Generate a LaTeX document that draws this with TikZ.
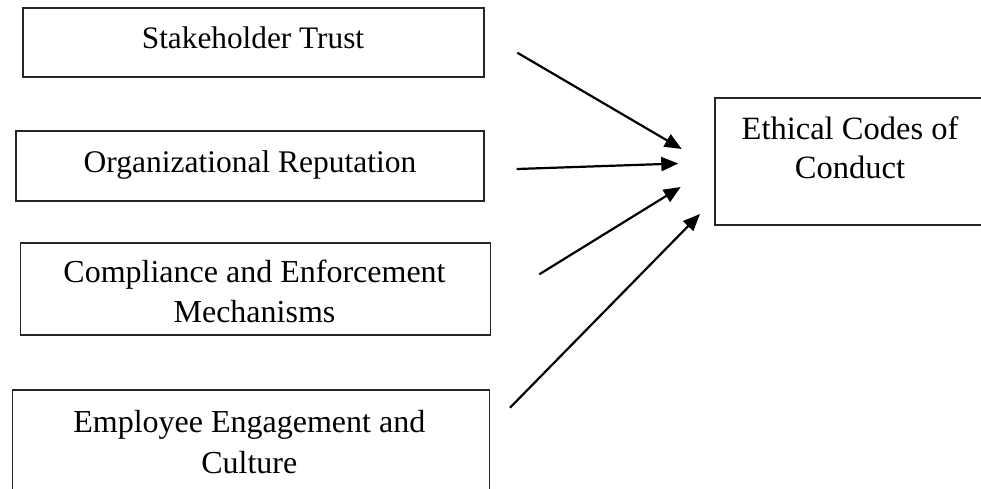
\documentclass[tikz,border=0pt]{standalone}
\usepackage{fontspec}
\setmainfont{Liberation Serif}
\usetikzlibrary{arrows.meta}
\begin{document}
\begin{tikzpicture}[x=1pt,y=-1pt,
  box/.style={draw=black!85, line width=1.6pt, inner sep=0pt, anchor=north west},
  txt/.style={inner sep=0pt, align=center, anchor=north},
  arr/.style={-{Triangle[length=17pt,width=14pt]}, line width=2.2pt}]
\useasboundingbox (0,0) rectangle (981,488);
% boxes
\node[box, minimum width=461pt, minimum height=69pt] (b1) at (22,7) {};
\node[box, minimum width=468pt, minimum height=70pt] (b2) at (15,130) {};
\node[box, minimum width=470pt, minimum height=92pt] (b3) at (19.5,242.3) {};
\node[box, minimum width=477pt, minimum height=110pt] (b4) at (11.7,389) {};
\node[box, minimum width=280pt, minimum height=126.7pt] (b5) at (714,97.3) {};
% texts
\node[txt, font=\fontsize{31.3}{40}\selectfont] (t1) at (253,26.3) {Stakeholder Trust};
\node[txt, font=\fontsize{31.5}{40}\selectfont] (t2) at (250,150) {Organizational Reputation};
\node[txt, font=\fontsize{32}{40}\selectfont] (t3) at (254.5,259.8) {Compliance and Enforcement\\Mechanisms};
\node[txt, font=\fontsize{32}{41}\selectfont] (t4) at (249.3,409.8) {Employee Engagement and\\Culture};
\node[txt, font=\fontsize{32.5}{39}\selectfont] (t5) at (850,116.4) {Ethical Codes of\\Conduct};
% arrow endpoints
\coordinate (s1) at (517.3,52.7);  \coordinate (e1) at (681.7,149);
\coordinate (s2) at (516.7,169);   \coordinate (e2) at (678.3,163.5);
\coordinate (s3) at (539.3,274.3); \coordinate (e3) at (680.7,187);
\coordinate (s4) at (510,407.7);   \coordinate (e4) at (700,214);
\draw[arr] (s1) -- (e1);
\draw[arr] (s2) -- (e2);
\draw[arr] (s3) -- (e3);
\draw[arr] (s4) -- (e4);
\end{tikzpicture}
\end{document}
